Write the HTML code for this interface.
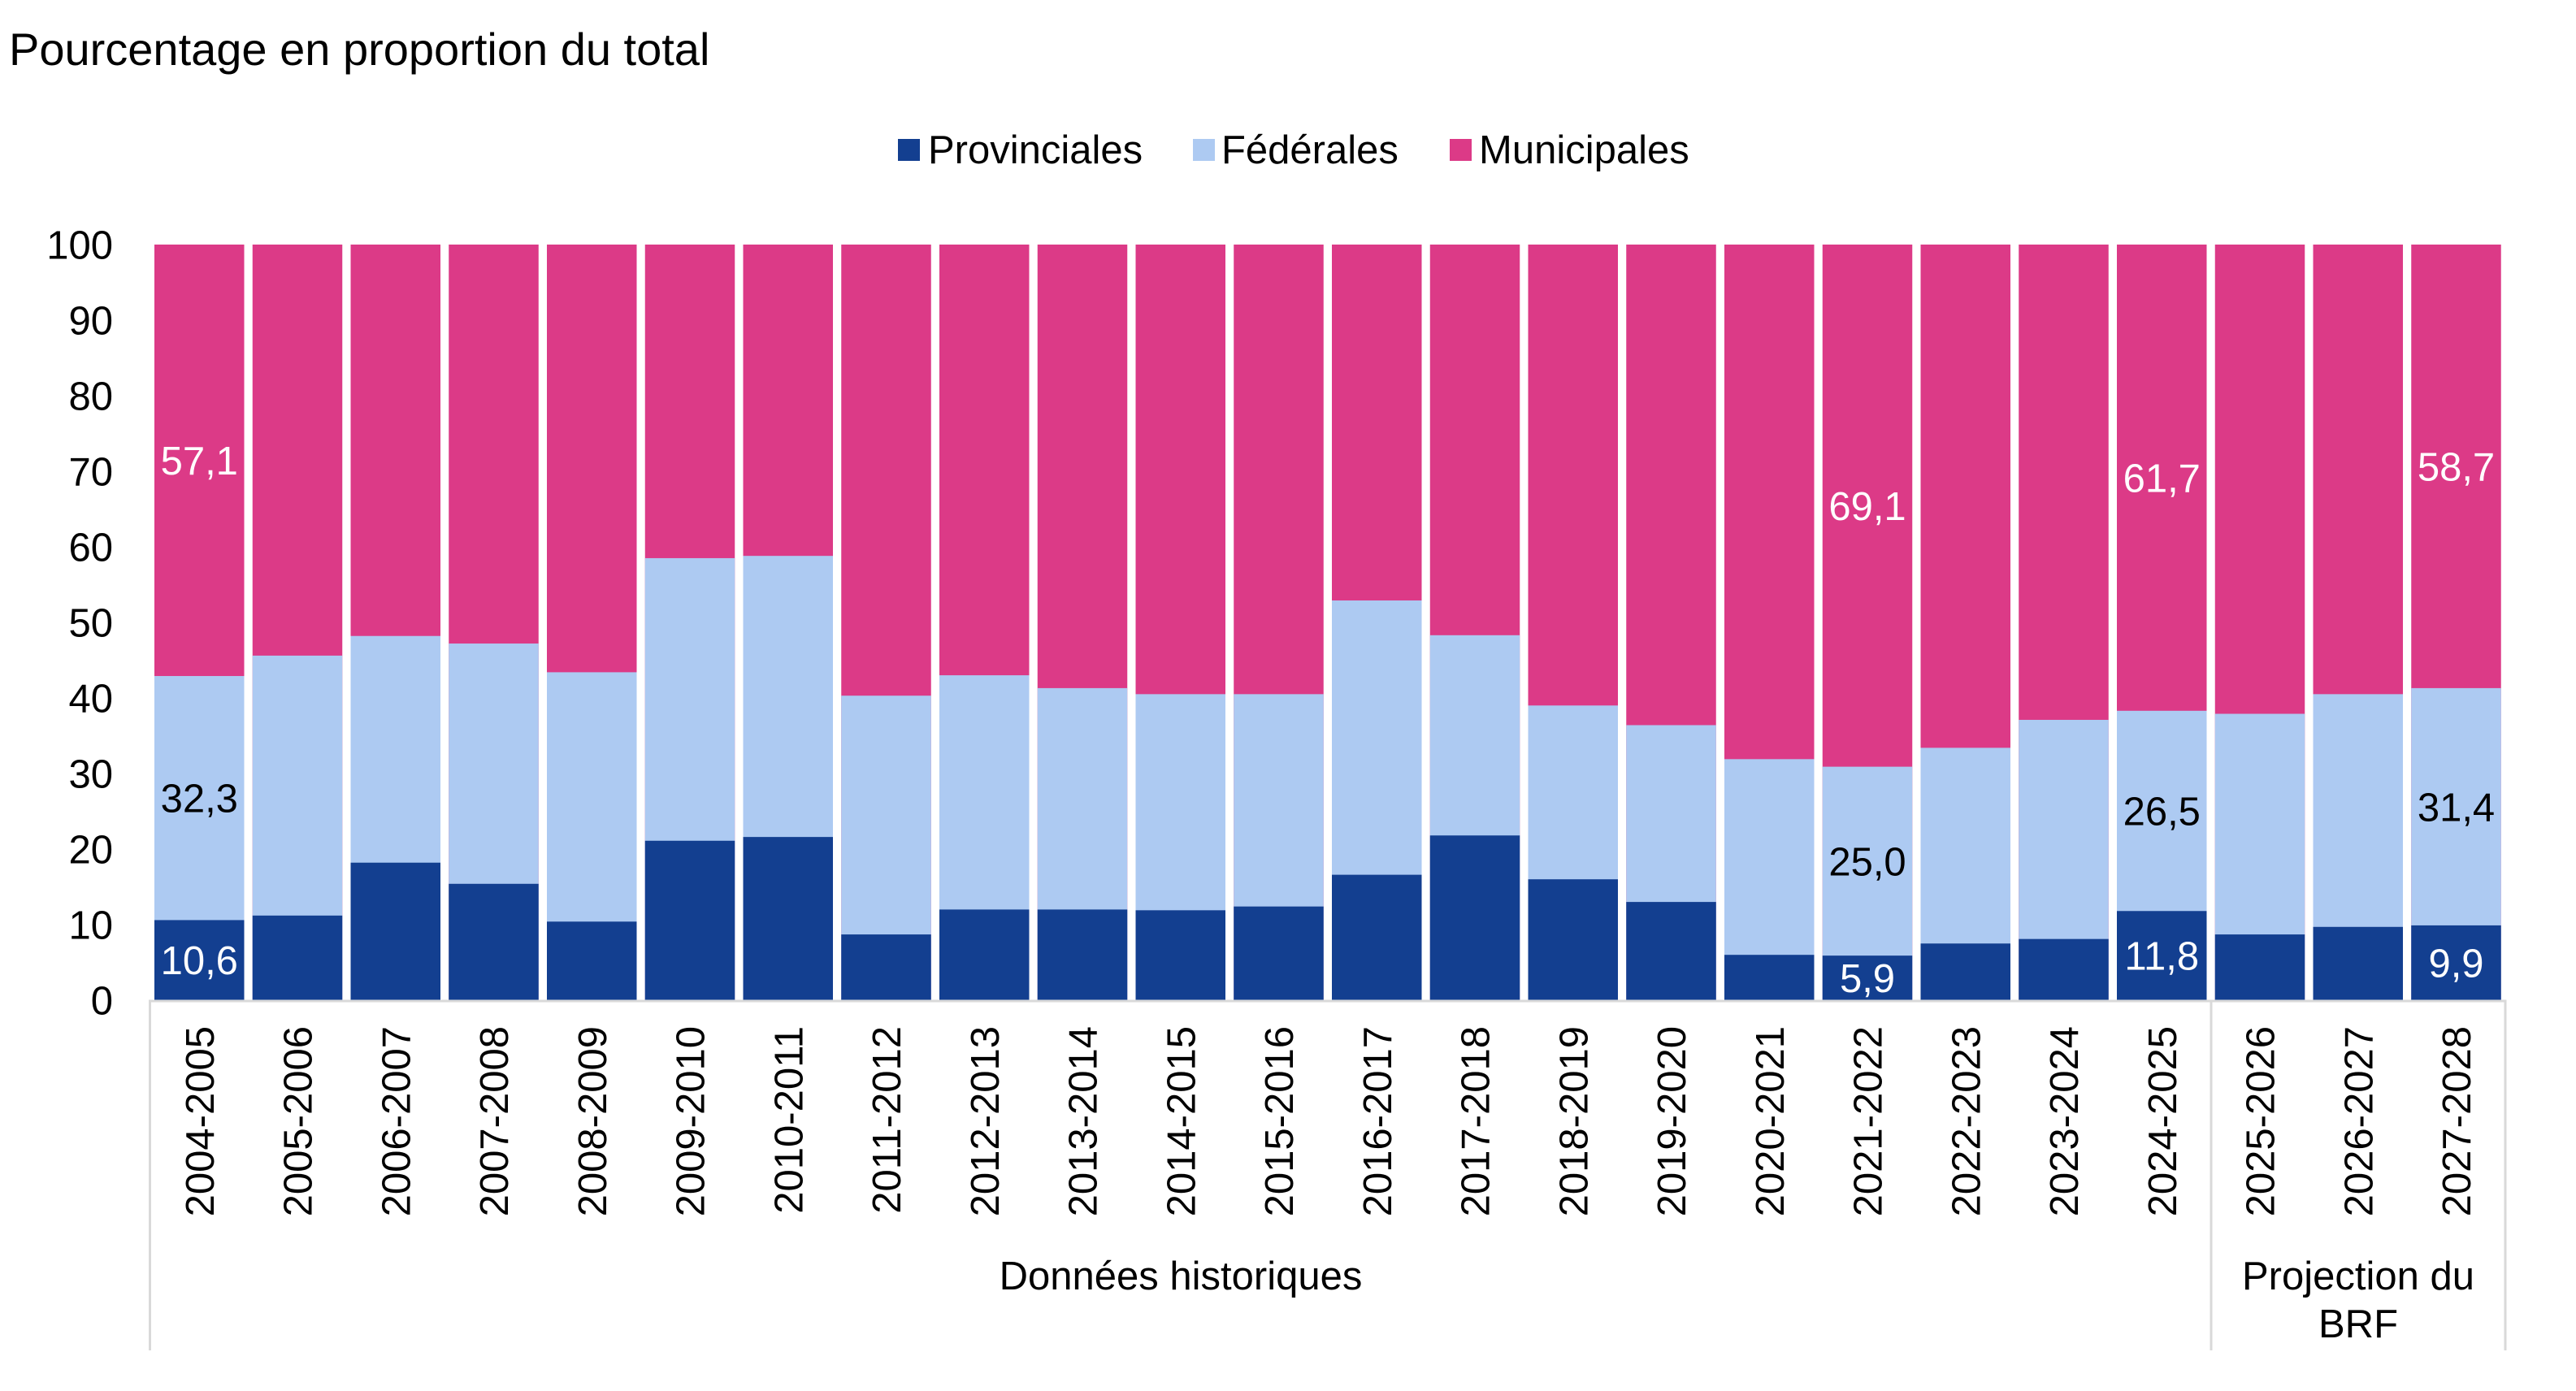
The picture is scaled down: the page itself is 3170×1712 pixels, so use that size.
<!DOCTYPE html>
<html><head><meta charset="utf-8"><style>
html,body{margin:0;padding:0;background:#fff;}
svg{display:block;}
text{font-family:"Liberation Sans",Arial,sans-serif;}
</style></head><body>
<svg width="3170" height="1712" viewBox="0 0 3170 1712" xmlns="http://www.w3.org/2000/svg">
<rect width="3170" height="1712" fill="#fff"/>
<text x="11" y="80" font-size="56" fill="#000">Pourcentage en proportion du total</text>
<!-- legend -->
<rect x="1105" y="171" width="27" height="27" fill="#133F90"/>
<text x="1142" y="201" font-size="49" fill="#000">Provinciales</text>
<rect x="1468" y="171" width="27" height="27" fill="#ADCAF2"/>
<text x="1503" y="201" font-size="49" fill="#000">Fédérales</text>
<rect x="1784" y="171" width="27" height="27" fill="#DC3A87"/>
<text x="1820" y="201" font-size="49" fill="#000">Municipales</text>
<!-- y axis labels -->
<g font-size="49" fill="#000" text-anchor="end">
<text x="139" y="318.5">100</text>
<text x="139" y="411.5">90</text>
<text x="139" y="504.5">80</text>
<text x="139" y="597.5">70</text>
<text x="139" y="690.5">60</text>
<text x="139" y="783.5">50</text>
<text x="139" y="876.5">40</text>
<text x="139" y="969.5">30</text>
<text x="139" y="1062.5">20</text>
<text x="139" y="1155.5">10</text>
<text x="139" y="1248.5">0</text>
</g>
<!-- municipal (full background) -->
<g fill="#DC3A87">
<rect x="190" y="301" width="110.5" height="930"/>
<rect x="310.75" y="301" width="110.5" height="930"/>
<rect x="431.5" y="301" width="110.5" height="930"/>
<rect x="552.25" y="301" width="110.5" height="930"/>
<rect x="673" y="301" width="110.5" height="930"/>
<rect x="793.75" y="301" width="110.5" height="930"/>
<rect x="914.5" y="301" width="110.5" height="930"/>
<rect x="1035.25" y="301" width="110.5" height="930"/>
<rect x="1156" y="301" width="110.5" height="930"/>
<rect x="1276.75" y="301" width="110.5" height="930"/>
<rect x="1397.5" y="301" width="110.5" height="930"/>
<rect x="1518.25" y="301" width="110.5" height="930"/>
<rect x="1639" y="301" width="110.5" height="930"/>
<rect x="1759.75" y="301" width="110.5" height="930"/>
<rect x="1880.5" y="301" width="110.5" height="930"/>
<rect x="2001.25" y="301" width="110.5" height="930"/>
<rect x="2122" y="301" width="110.5" height="930"/>
<rect x="2242.75" y="301" width="110.5" height="930"/>
<rect x="2363.5" y="301" width="110.5" height="930"/>
<rect x="2484.25" y="301" width="110.5" height="930"/>
<rect x="2605" y="301" width="110.5" height="930"/>
<rect x="2725.75" y="301" width="110.5" height="930"/>
<rect x="2846.5" y="301" width="110.5" height="930"/>
<rect x="2967.25" y="301" width="110.5" height="930"/>
</g>
<!-- federal (prov+fed) -->
<g fill="#ADCAF2">
<rect x="190" y="832.03" width="110.5" height="398.97"/>
<rect x="310.75" y="806.92" width="110.5" height="424.08"/>
<rect x="431.5" y="782.74" width="110.5" height="448.26"/>
<rect x="552.25" y="792.04" width="110.5" height="438.96"/>
<rect x="673" y="827.38" width="110.5" height="403.62"/>
<rect x="793.75" y="686.95" width="110.5" height="544.05"/>
<rect x="914.5" y="684.16" width="110.5" height="546.84"/>
<rect x="1035.25" y="856.21" width="110.5" height="374.79"/>
<rect x="1156" y="831.1" width="110.5" height="399.9"/>
<rect x="1276.75" y="846.91" width="110.5" height="384.09"/>
<rect x="1397.5" y="854.35" width="110.5" height="376.65"/>
<rect x="1518.25" y="854.35" width="110.5" height="376.65"/>
<rect x="1639" y="739.03" width="110.5" height="491.97"/>
<rect x="1759.75" y="781.81" width="110.5" height="449.19"/>
<rect x="1880.5" y="868.3" width="110.5" height="362.7"/>
<rect x="2001.25" y="892.48" width="110.5" height="338.52"/>
<rect x="2122" y="934.33" width="110.5" height="296.67"/>
<rect x="2242.75" y="943.63" width="110.5" height="287.37"/>
<rect x="2363.5" y="920.38" width="110.5" height="310.62"/>
<rect x="2484.25" y="885.97" width="110.5" height="345.03"/>
<rect x="2605" y="874.81" width="110.5" height="356.19"/>
<rect x="2725.75" y="878.53" width="110.5" height="352.47"/>
<rect x="2846.5" y="854.35" width="110.5" height="376.65"/>
<rect x="2967.25" y="846.91" width="110.5" height="384.09"/>
</g>
<!-- provincial -->
<g fill="#133F90">
<rect x="190" y="1132.42" width="110.5" height="98.58"/>
<rect x="310.75" y="1126.84" width="110.5" height="104.16"/>
<rect x="431.5" y="1061.74" width="110.5" height="169.26"/>
<rect x="552.25" y="1087.78" width="110.5" height="143.22"/>
<rect x="673" y="1134.28" width="110.5" height="96.72"/>
<rect x="793.75" y="1034.77" width="110.5" height="196.23"/>
<rect x="914.5" y="1030.12" width="110.5" height="200.88"/>
<rect x="1035.25" y="1150.09" width="110.5" height="80.91"/>
<rect x="1156" y="1119.4" width="110.5" height="111.6"/>
<rect x="1276.75" y="1119.4" width="110.5" height="111.6"/>
<rect x="1397.5" y="1120.33" width="110.5" height="110.67"/>
<rect x="1518.25" y="1115.68" width="110.5" height="115.32"/>
<rect x="1639" y="1076.62" width="110.5" height="154.38"/>
<rect x="1759.75" y="1028.26" width="110.5" height="202.74"/>
<rect x="1880.5" y="1082.2" width="110.5" height="148.8"/>
<rect x="2001.25" y="1110.1" width="110.5" height="120.9"/>
<rect x="2122" y="1175.2" width="110.5" height="55.8"/>
<rect x="2242.75" y="1176.13" width="110.5" height="54.87"/>
<rect x="2363.5" y="1161.25" width="110.5" height="69.75"/>
<rect x="2484.25" y="1155.67" width="110.5" height="75.33"/>
<rect x="2605" y="1121.26" width="110.5" height="109.74"/>
<rect x="2725.75" y="1150.09" width="110.5" height="80.91"/>
<rect x="2846.5" y="1140.79" width="110.5" height="90.21"/>
<rect x="2967.25" y="1138.93" width="110.5" height="92.07"/>
</g>
<!-- data labels -->
<g font-size="49" text-anchor="middle">
<text x="245.25" y="584" fill="#fff">57,1</text>
<text x="245.25" y="999.7" fill="#000">32,3</text>
<text x="245.25" y="1199.2" fill="#fff">10,6</text>
<text x="2298" y="639.8" fill="#fff">69,1</text>
<text x="2298" y="1077.4" fill="#000">25,0</text>
<text x="2298" y="1221.1" fill="#fff">5,9</text>
<text x="2660.25" y="605.4" fill="#fff">61,7</text>
<text x="2660.25" y="1015.5" fill="#000">26,5</text>
<text x="2660.25" y="1193.6" fill="#fff">11,8</text>
<text x="3022.5" y="591.5" fill="#fff">58,7</text>
<text x="3022.5" y="1010.4" fill="#000">31,4</text>
<text x="3022.5" y="1202.5" fill="#fff">9,9</text>
</g>
<!-- axis lines -->
<g stroke="#D9D9D9" stroke-width="3" fill="none">
<line x1="183" y1="1232" x2="3084.5" y2="1232"/>
<line x1="184.5" y1="1231" x2="184.5" y2="1662"/>
<line x1="2721" y1="1231" x2="2721" y2="1662"/>
<line x1="3083" y1="1231" x2="3083" y2="1662"/>
</g>
<!-- category labels -->
<g font-size="49" fill="#000" text-anchor="end">
<text transform="translate(262.75,1263) rotate(-90)">2004-2005</text>
<text transform="translate(383.5,1263) rotate(-90)">2005-2006</text>
<text transform="translate(504.25,1263) rotate(-90)">2006-2007</text>
<text transform="translate(625,1263) rotate(-90)">2007-2008</text>
<text transform="translate(745.75,1263) rotate(-90)">2008-2009</text>
<text transform="translate(866.5,1263) rotate(-90)">2009-2010</text>
<text transform="translate(987.25,1263) rotate(-90)">2010-2011</text>
<text transform="translate(1108,1263) rotate(-90)">2011-2012</text>
<text transform="translate(1228.75,1263) rotate(-90)">2012-2013</text>
<text transform="translate(1349.5,1263) rotate(-90)">2013-2014</text>
<text transform="translate(1470.25,1263) rotate(-90)">2014-2015</text>
<text transform="translate(1591,1263) rotate(-90)">2015-2016</text>
<text transform="translate(1711.75,1263) rotate(-90)">2016-2017</text>
<text transform="translate(1832.5,1263) rotate(-90)">2017-2018</text>
<text transform="translate(1953.25,1263) rotate(-90)">2018-2019</text>
<text transform="translate(2074,1263) rotate(-90)">2019-2020</text>
<text transform="translate(2194.75,1263) rotate(-90)">2020-2021</text>
<text transform="translate(2315.5,1263) rotate(-90)">2021-2022</text>
<text transform="translate(2436.25,1263) rotate(-90)">2022-2023</text>
<text transform="translate(2557,1263) rotate(-90)">2023-2024</text>
<text transform="translate(2677.75,1263) rotate(-90)">2024-2025</text>
<text transform="translate(2798.5,1263) rotate(-90)">2025-2026</text>
<text transform="translate(2919.25,1263) rotate(-90)">2026-2027</text>
<text transform="translate(3040,1263) rotate(-90)">2027-2028</text>
</g>
<g font-size="49" fill="#000" text-anchor="middle">
<text x="1453" y="1587">Données historiques</text>
<text x="2902" y="1587">Projection du</text>
<text x="2902" y="1646">BRF</text>
</g>
</svg>
</body></html>
